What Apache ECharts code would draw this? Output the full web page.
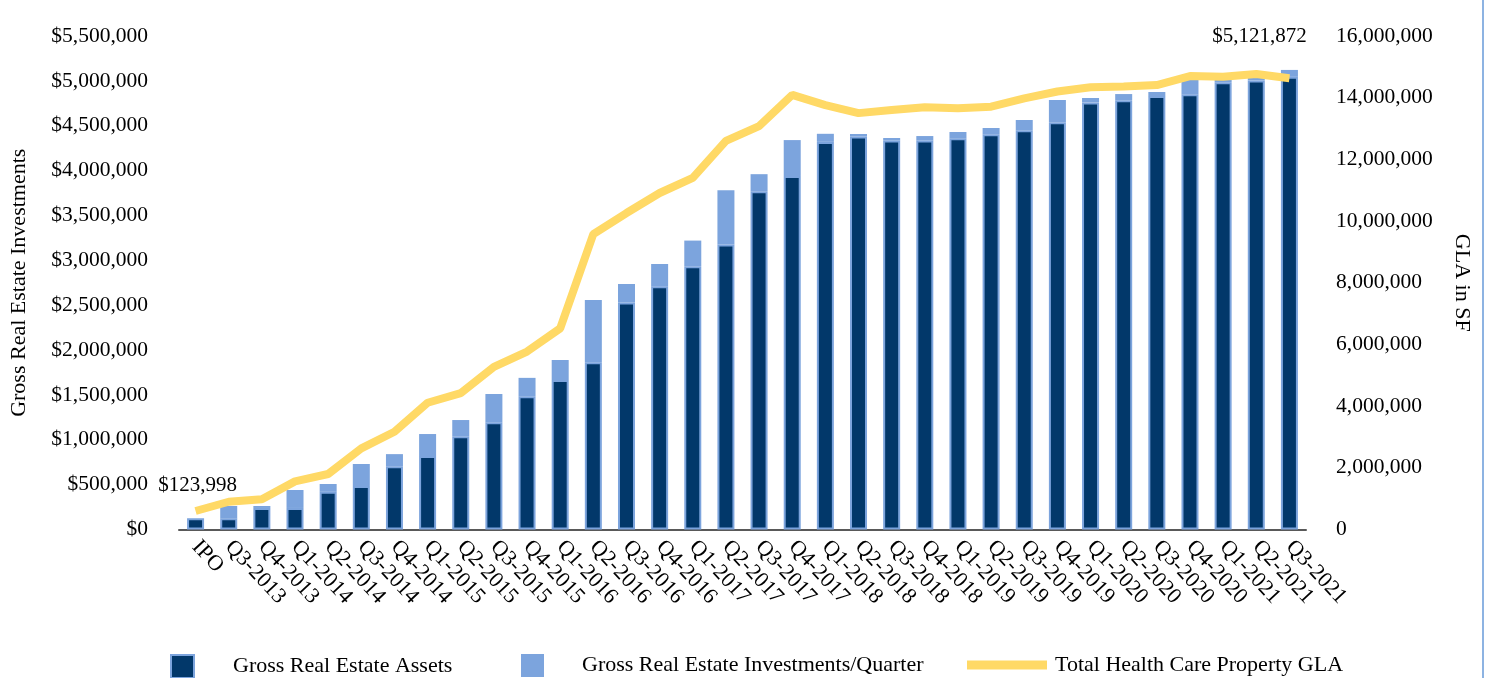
<!DOCTYPE html>
<html lang="en">
<head>
    <meta charset="UTF-8">
    <script src="https://cdn.jsdelivr.net/npm/echarts@6/dist/echarts.min.js"></script>
    <title>Gross Real Estate Investments</title>
    <style>
        html, body { margin: 0; padding: 0; background: #fff; }
        #chart { width: 1488px; height: 678px; }
    </style>
</head>
<body>
<div id="chart"></div>
<script>
    let quarters = ['IPO','Q3-2013','Q4-2013','Q1-2014','Q2-2014','Q3-2014','Q4-2014','Q1-2015','Q2-2015','Q3-2015',
        'Q4-2015','Q1-2016','Q2-2016','Q3-2016','Q4-2016','Q1-2017','Q2-2017','Q3-2017','Q4-2017','Q1-2018',
        'Q2-2018','Q3-2018','Q4-2018','Q1-2019','Q2-2019','Q3-2019','Q4-2019','Q1-2020','Q2-2020','Q3-2020',
        'Q4-2020','Q1-2021','Q2-2021','Q3-2021'];

    // gross real estate assets (dark bars)
    let assets = [123998, 124000, 240000, 240000, 420000, 485000, 705000, 818000, 1040000, 1195000,
        1485000, 1665000, 1865000, 2530000, 2710000, 2935000, 3175000, 3770000, 3940000, 4320000,
        4380000, 4335000, 4335000, 4360000, 4405000, 4450000, 4540000, 4760000, 4785000, 4830000,
        4850000, 4985000, 5005000, 5045000];

    // investments per quarter (light bars, stacked on top)
    let invest = [0, 138000, 22000, 200000, 87000, 245000, 135000, 246000, 180000, 315000,
        205000, 224000, 692000, 206000, 249000, 285000, 605000, 190000, 400000, 90000,
        28000, 28000, 50000, 70000, 70000, 114000, 247000, 49000, 68000, 46000,
        160000, 35000, 40000, 76872];

    // total health care property GLA (square feet)
    let gla = [600000, 900000, 980000, 1560000, 1800000, 2630000, 3170000, 4110000, 4420000, 5270000,
        5770000, 6520000, 9580000, 10260000, 10910000, 11400000, 12600000, 13080000, 14090000, 13760000,
        13500000, 13600000, 13690000, 13660000, 13710000, 13980000, 14200000, 14340000, 14360000, 14410000,
        14700000, 14680000, 14770000, 14630000];

    let font = '"Liberation Serif", "Times New Roman", serif';
    let dark = '#02386A';
    let light = '#7CA4DD';
    let yellow = '#FFD966';

    function money(v){
        return '$' + Math.round(v).toLocaleString('en-US');
    }

    let last = quarters.length - 1;
    let assetsData = assets.map(function(v, i){
        if ( i === 0 ){
            return {
                value: v,
                label: { show: true, position: 'top', offset: [2, -17], formatter: money(v) }
            };
        }
        return v;
    });
    let investData = invest.map(function(v, i){
        if ( i === last ){
            return {
                value: v,
                label: { show: true, position: 'top', offset: [-30, -18], formatter: money(assets[i] + v) }
            };
        }
        return v;
    });

    let legendText = { fontFamily: font, fontSize: 22, color: '#000' };

    let myChart = echarts.init(document.getElementById('chart'));
    let option = {
        animation: false,
        textStyle: { fontFamily: font, color: '#000' },
        grid: { left: 176, right: 182, top: 36, bottom: 148.5 },
        legend: [
            {
                data: ['Gross Real Estate Assets'],
                left: 170, top: 654, padding: 0,
                icon: 'rect',
                itemWidth: 23, itemHeight: 23, itemGap: 0,
                textStyle: Object.assign({ padding: [0, 0, 0, 34] }, legendText)
            },
            {
                data: ['Gross Real Estate Investments/Quarter'],
                left: 521, top: 654, padding: 0,
                icon: 'rect',
                itemWidth: 23, itemHeight: 23, itemGap: 0,
                textStyle: Object.assign({ padding: [0, 0, 0, 33] }, legendText)
            },
            {
                data: ['Total Health Care Property GLA'],
                left: 967, top: 654, padding: 0,
                icon: 'rect',
                itemWidth: 80, itemHeight: 9, itemGap: 0,
                textStyle: Object.assign({ padding: [0, 0, 0, 3] }, legendText)
            }
        ],
        xAxis: {
            type: 'category',
            data: quarters,
            axisLine: { lineStyle: { color: '#595959', width: 2 } },
            axisTick: { show: false },
            axisLabel: {
                interval: 0,
                rotate: -47,
                margin: 14,
                fontFamily: font,
                fontSize: 22,
                color: '#000'
            }
        },
        yAxis: [
            {
                type: 'value',
                min: 0,
                max: 5500000,
                interval: 500000,
                name: 'Gross Real Estate Investments',
                nameLocation: 'middle',
                nameGap: 149,
                nameTextStyle: { fontFamily: font, fontSize: 22, color: '#000' },
                splitLine: { show: false },
                axisLine: { show: false },
                axisTick: { show: false },
                axisLabel: {
                    margin: 31,
                    fontFamily: font,
                    fontSize: 21.5,
                    color: '#000',
                    formatter: function(v){ return money(v); }
                }
            },
            {
                type: 'value',
                min: 0,
                max: 16000000,
                interval: 2000000,
                name: 'GLA in SF',
                nameLocation: 'middle',
                nameRotate: -90,
                nameGap: 145,
                nameTextStyle: { fontFamily: font, fontSize: 22, color: '#000' },
                splitLine: { show: false },
                axisLine: { show: false },
                axisTick: { show: false },
                axisLabel: {
                    margin: 30,
                    fontFamily: font,
                    fontSize: 21.5,
                    color: '#000',
                    formatter: function(v){ return v.toLocaleString('en-US'); }
                }
            }
        ],
        series: [
            {
                name: 'Gross Real Estate Assets',
                type: 'bar',
                stack: 'gross',
                barWidth: 17,
                data: assetsData,
                itemStyle: { color: dark, borderColor: light, borderWidth: 2 },
                label: { fontFamily: font, fontSize: 21, color: '#000' }
            },
            {
                name: 'Gross Real Estate Investments/Quarter',
                type: 'bar',
                stack: 'gross',
                barWidth: 17,
                data: investData,
                itemStyle: { color: light },
                label: { fontFamily: font, fontSize: 21, color: '#000' }
            },
            {
                name: 'Total Health Care Property GLA',
                type: 'line',
                yAxisIndex: 1,
                data: gla,
                symbol: 'none',
                lineStyle: { color: yellow, width: 8 },
                itemStyle: { color: yellow },
                z: 3
            }
        ],
        graphic: [
            {
                type: 'line',
                shape: { x1: 1483, y1: 0, x2: 1483, y2: 678 },
                style: { stroke: '#8DB3E2', lineWidth: 2 }
            }
        ]
    };
    myChart.setOption(option);
</script>
</body>
</html>
